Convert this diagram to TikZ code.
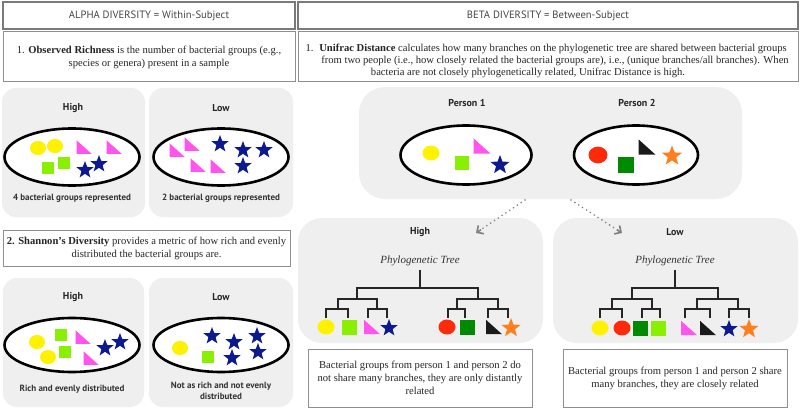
\documentclass[tikz,border=0pt]{standalone}
\usepackage{fontspec}
\setmainfont{Liberation Serif}
\newfontfamily\labfont{PT Sans}
\usetikzlibrary{shapes.geometric,arrows.meta,calc}
\definecolor{panelgray}{HTML}{EFEFEF}
\definecolor{boxgray}{HTML}{7A7A7A}
\definecolor{hdrtext}{HTML}{444444}
\definecolor{cyel}{HTML}{FFF200}
\definecolor{clime}{HTML}{88F000}
\definecolor{cmag}{HTML}{FF55EE}
\definecolor{cnavy}{HTML}{0D1A8F}
\definecolor{cred}{HTML}{FF2A0A}
\definecolor{cdgreen}{HTML}{008A00}
\definecolor{cblack}{HTML}{1A1A1A}
\definecolor{corange}{HTML}{FF7F1F}
\definecolor{arrgray}{HTML}{7F7F7F}
% shapes: x, y, size, colour
\newcommand\shCirc[4]{\fill[#4] (#1,#2) ellipse [x radius=#3pt, y radius=0.88*#3pt];}
\newcommand\shSq[4]{\fill[#4] (#1-#3/2,#2-#3/2) rectangle ++(#3,#3);}
\newcommand\shTri[4]{\fill[#4] (#1-#3/2,#2-0.45*#3) -- ++(0,0.9*#3) -- ++(#3,0) -- cycle;}
\newcommand\shStar[4]{\fill[#4] (#1,#2) +(270:#3) -- +(306:0.42*#3) -- +(342:#3) -- +(18:0.42*#3) -- +(54:#3) -- +(90:0.42*#3) -- +(126:#3) -- +(162:0.42*#3) -- +(198:#3) -- +(234:0.42*#3) -- cycle;}
\tikzset{
  panel/.style={fill=panelgray, rounded corners=14pt, inner sep=0pt, outer sep=0pt},
  hdr/.style={draw=boxgray, line width=1.6pt, fill=white, inner sep=0pt, text=hdrtext, font=\labfont\fontsize{10.6}{13}\selectfont},
  txtbox/.style={draw=boxgray!85, line width=1pt, fill=white, inner sep=0pt, align=center, text=black!85, font=\fontsize{10.6}{13}\selectfont},
  unitxt/.style={font=\fontsize{10.6}{12}\selectfont, text=black!85, anchor=base},
  dish/.style={ellipse, draw=black, line width=2.6pt, fill=white, inner sep=0pt},
  lab/.style={font=\labfont\bfseries\fontsize{10}{12}\selectfont, text=black!85},
  capt/.style={font=\labfont\bfseries\fontsize{9}{11}\selectfont, text=black!80, align=center},
  ttl/.style={font=\itshape\fontsize{11}{13}\selectfont, text=black!80},
  treeline/.style={line width=1.4pt, black!85},
  dotarrow/.style={arrgray, line width=1.8pt, line cap=round, dash pattern=on 0pt off 4.6pt},
  tiparrow/.style={arrgray, line width=1.6pt, -{Straight Barb[length=5pt,width=10pt]}}
}
\begin{document}
\begin{tikzpicture}[x=1pt,y=-1pt]
\useasboundingbox[fill=white] (0,0) rectangle (800,409);

% ---------- ALPHA side ----------
\node[hdr, minimum width=292pt, minimum height=27pt] (hdrA) at (149,15.5) {ALPHA DIVERSITY = Within-Subject};
\node[txtbox, minimum width=292pt, minimum height=50pt] (obs) at (149,57)
  {1. \textbf{Observed Richness} is the number of bacterial groups (e.g.,\\ species or genera) present in a sample};

\node[panel, minimum width=143pt, minimum height=129pt] (pAH) at (73.5,152.5) {};
\node[panel, minimum width=144pt, minimum height=129pt] (pAL) at (221,152.5) {};
\node[lab] (lAH) at (73,108) {High};
\node[lab] (lAL) at (221,108) {Low};
\node[dish, minimum width=135pt, minimum height=57pt] (eAH) at (72,157) {};
\node[dish, minimum width=135pt, minimum height=57pt] (eAL) at (221,157) {};
\node[capt] (cAH) at (72,198) {4 bacterial groups represented};
\node[capt] (cAL) at (221,198) {2 bacterial groups represented};
% high richness contents
\shCirc{38}{148}{8}{cyel}
\shCirc{55}{146}{8}{cyel}
\shSq{48}{168}{12.5}{clime}
\shSq{64}{163}{12.5}{clime}
\shTri{84}{147}{15}{cmag}
\shTri{114}{147}{15}{cmag}
\shStar{85}{170}{9}{cnavy}
\shStar{99}{164}{9}{cnavy}
% low richness contents
\shTri{177}{150}{15}{cmag}
\shTri{192}{144}{15}{cmag}
\shTri{198}{165}{15}{cmag}
\shTri{218}{166}{15}{cmag}
\shStar{220}{144}{9}{cnavy}
\shStar{243}{150}{9}{cnavy}
\shStar{264}{150}{9}{cnavy}
\shStar{243}{166}{9}{cnavy}

\node[txtbox, minimum width=287pt, minimum height=36pt] (shb) at (146.5,248)
  {\textbf{2. Shannon’s Diversity} provides a metric of how rich and evenly\\ distributed the bacterial groups are.};

\node[panel, minimum width=141pt, minimum height=129pt] (pSH) at (73.5,342.5) {};
\node[panel, minimum width=144pt, minimum height=129pt] (pSL) at (221,342.5) {};
\node[lab] (lSH) at (73,297) {High};
\node[lab] (lSL) at (221,297) {Low};
\node[dish, minimum width=135pt, minimum height=54pt] (eSH) at (72,345) {};
\node[dish, minimum width=135pt, minimum height=54pt] (eSL) at (221,345) {};
\node[capt] (cSH) at (72,389) {Rich and evenly distributed};
\node[capt] (cSL) at (221,390.5) {Not as rich and not evenly\\ distributed};
% high shannon contents
\shCirc{37}{342}{8}{cyel}
\shCirc{48}{357}{8}{cyel}
\shSq{61}{335}{12.5}{clime}
\shSq{65}{352}{12.5}{clime}
\shTri{83}{337}{15}{cmag}
\shTri{91}{358}{15}{cmag}
\shStar{105}{348}{9}{cnavy}
\shStar{120}{342}{9}{cnavy}
% low shannon contents
\shCirc{180}{348}{8}{cyel}
\shSq{208}{357}{12.5}{clime}
\shStar{212}{336}{9}{cnavy}
\shStar{234}{342}{9}{cnavy}
\shStar{257}{336}{9}{cnavy}
\shStar{232}{358}{9}{cnavy}
\shStar{258}{352}{9}{cnavy}

% ---------- BETA side ----------
\node[hdr, minimum width=500pt, minimum height=27pt] (hdrB) at (548,15.5) {BETA DIVERSITY = Between-Subject};
\node[txtbox, minimum width=500pt, minimum height=50pt] (uni) at (548,57) {};
\node[unitxt, anchor=base west] (u0) at (302,52) {1.};
\node[unitxt] (u1) at (553,52) {\textbf{Unifrac Distance} calculates how many branches on the phylogenetic tree are shared between bacterial groups};
\node[unitxt] (u2) at (555,64) {from two people (i.e., how closely related the bacterial groups are), i.e., (unique branches/all branches). When};
\node[unitxt] (u3) at (528,76) {bacteria are not closely phylogenetically related, Unifrac Distance is high.};

\node[panel, minimum width=383pt, minimum height=112pt, rounded corners=26pt] (pP) at (550.5,143) {};
\node[lab] (lP1) at (467,103) {Person 1};
\node[lab] (lP2) at (637,103) {Person 2};
\node[dish, minimum width=131pt, minimum height=59pt] (eP1) at (466,155) {};
\node[dish, minimum width=124pt, minimum height=59pt] (eP2) at (636,155) {};
\shCirc{431}{153}{8.5}{cyel}
\shSq{462}{163}{14}{clime}
\shTri{482}{146}{17}{cmag}
\shStar{500}{165}{10}{cnavy}
\shCirc{598}{155}{9.5}{cred}
\shSq{626}{165}{16}{cdgreen}
\shTri{647}{147}{17}{cblack}
\shStar{672}{156}{10.5}{corange}

% tree panels
\node[panel, minimum width=245pt, minimum height=125pt, rounded corners=24pt] (pTH) at (420.5,280.5) {};
\node[panel, minimum width=245pt, minimum height=125pt, rounded corners=24pt] (pTL) at (675.5,280.5) {};
\node[lab] (lTH) at (420,232) {High};
\node[lab] (lTL) at (675,232) {Low};
\node[ttl] (tTH) at (420,261) {Phylogenetic Tree};
\node[ttl] (tTL) at (675,261) {Phylogenetic Tree};

% dotted arrows
\coordinate (aHs) at (525,200);
\coordinate (aHe) at (476,233);
\coordinate (aLs) at (571,200);
\coordinate (aLe) at (622,233);
\draw[dotarrow] (aHs) -- ($(aHe)!5pt!(aHs)$);
\draw[tiparrow] ($(aHe)!6pt!(aHs)$) -- (aHe);
\draw[dotarrow] (aLs) -- ($(aLe)!5pt!(aLs)$);
\draw[tiparrow] ($(aLe)!6pt!(aLs)$) -- (aLe);

% High tree
\draw[treeline] (420,270) -- (420,288);
\draw[treeline] (357,299) |- (420,288) -| (478,299);
\draw[treeline] (338,309) |- (357,299) -| (377,309);
\draw[treeline] (457,309) |- (478,299) -| (498,309);
\draw[treeline] (326,318) |- (337,309) -| (348,318);
\draw[treeline] (368,318) |- (377,309) -| (387,318);
\draw[treeline] (448,318) |- (457,309) -| (465,318);
\draw[treeline] (488,318) |- (498,309) -| (508,318);
\shCirc{326}{327}{8.5}{cyel}
\shSq{349}{327}{15}{clime}
\shTri{372}{327}{16}{cmag}
\shStar{389}{328}{9}{cnavy}
\shCirc{447}{327}{8.5}{cred}
\shSq{467}{327}{15}{cdgreen}
\shTri{494}{327}{16}{cblack}
\shStar{511}{328}{10}{corange}

% Low tree
\draw[treeline] (675,270) -- (675,288);
\draw[treeline] (632,299) |- (675,288) -| (718,299);
\draw[treeline] (612,309) |- (632,299) -| (652,309);
\draw[treeline] (697,309) |- (718,299) -| (738,309);
\draw[treeline] (600,318) |- (611,309) -| (622,318);
\draw[treeline] (642,318) |- (652,309) -| (660,318);
\draw[treeline] (685,318) |- (697,309) -| (710,318);
\draw[treeline] (729,318) |- (738,309) -| (749,318);
\shCirc{600}{328}{8.5}{cyel}
\shCirc{622}{328}{8.5}{cred}
\shSq{640}{328}{15}{cdgreen}
\shSq{658}{328}{15}{clime}
\shTri{689}{328}{16}{cmag}
\shTri{708}{328}{16}{cblack}
\shStar{729}{329}{9}{cnavy}
\shStar{749}{329}{10}{corange}

% bottom text boxes
\node[txtbox, minimum width=224pt, minimum height=58pt] (txH) at (420,378)
  {Bacterial groups from person 1 and person 2 do\\ not share many branches, they are only distantly\\ related};
\node[txtbox, minimum width=224pt, minimum height=58pt] (txL) at (675,378)
  {Bacterial groups from person 1 and person 2 share\\ many branches, they are closely related};
\end{tikzpicture}
\end{document}
